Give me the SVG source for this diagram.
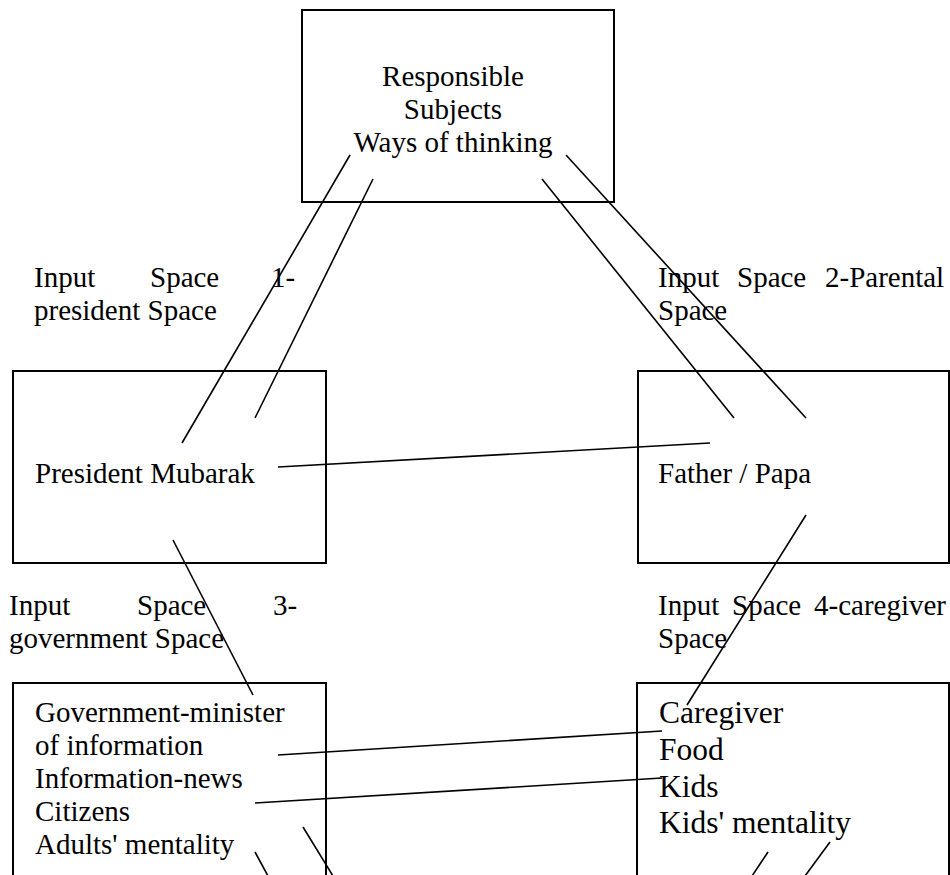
<svg xmlns="http://www.w3.org/2000/svg" width="950" height="875" viewBox="0 0 950 875">
  <style>
    .box { fill: #ffffff; stroke: #000000; stroke-width: 2; }
    .lbl { font-family: "Liberation Serif", "Times New Roman", serif; font-size: 29px; fill: #000000; }
    .big { font-size: 31.5px; }
    .link { stroke: #000000; stroke-width: 1.6; fill: none; }
  </style>
  <rect width="950" height="875" fill="#ffffff"/>

  <!-- blended space -->
  <g id="blend">
    <rect class="box" x="302" y="10" width="312" height="192"/>
    <text class="lbl" x="453" y="86" text-anchor="middle">Responsible</text>
    <text class="lbl" x="453" y="119" text-anchor="middle">Subjects</text>
    <text class="lbl" x="453" y="152" text-anchor="middle">Ways of thinking</text>
  </g>

  <!-- space captions (justified lines, one word per text element) -->
  <g id="caption-1">
    <text class="lbl" x="34" y="287">Input</text>
    <text class="lbl" x="150" y="287">Space</text>
    <text class="lbl" x="271" y="287">1-</text>
    <text class="lbl" x="34" y="320">president Space</text>
  </g>
  <g id="caption-2">
    <text class="lbl" x="658" y="287">Input</text>
    <text class="lbl" x="737" y="287">Space</text>
    <text class="lbl" x="825" y="287">2-Parental</text>
    <text class="lbl" x="658" y="320">Space</text>
  </g>
  <g id="caption-3">
    <text class="lbl" x="9" y="615">Input</text>
    <text class="lbl" x="137" y="615">Space</text>
    <text class="lbl" x="273" y="615">3-</text>
    <text class="lbl" x="9" y="648">government Space</text>
  </g>
  <g id="caption-4">
    <text class="lbl" x="658" y="615">Input</text>
    <text class="lbl" x="732" y="615">Space</text>
    <text class="lbl" x="814" y="615">4-caregiver</text>
    <text class="lbl" x="658" y="648">Space</text>
  </g>

  <!-- input space 1 -->
  <g id="president">
    <rect class="box" x="13" y="371" width="313" height="192"/>
    <text class="lbl" x="35" y="483">President Mubarak</text>
  </g>

  <!-- input space 2 -->
  <g id="parental">
    <rect class="box" x="638" y="371" width="311" height="192"/>
    <text class="lbl" x="658" y="483">Father / Papa</text>
  </g>

  <!-- input space 3 -->
  <g id="government">
    <rect class="box" x="13" y="683" width="313" height="200"/>
    <text class="lbl" x="35" y="722">Government-minister</text>
    <text class="lbl" x="35" y="755">of information</text>
    <text class="lbl" x="35" y="788">Information-news</text>
    <text class="lbl" x="35" y="821">Citizens</text>
    <text class="lbl" x="35" y="854">Adults' mentality</text>
  </g>

  <!-- input space 4 -->
  <g id="caregiver">
    <rect class="box" x="637" y="683" width="312" height="200"/>
    <text class="lbl big" x="659" y="723">Caregiver</text>
    <text class="lbl big" x="659" y="760">Food</text>
    <text class="lbl big" x="659" y="797">Kids</text>
    <text class="lbl big" x="659" y="833">Kids' mentality</text>
  </g>

  <!-- mappings between spaces -->
  <g id="connectors">
    <line class="link" x1="350" y1="155" x2="182" y2="443"/>
    <line class="link" x1="373" y1="179" x2="255" y2="418"/>
    <line class="link" x1="542" y1="179" x2="734" y2="418"/>
    <line class="link" x1="566" y1="155" x2="806" y2="418"/>
    <line class="link" x1="278" y1="467" x2="710" y2="443"/>
    <line class="link" x1="173" y1="540" x2="253" y2="695"/>
    <line class="link" x1="806" y1="515" x2="687" y2="705"/>
    <line class="link" x1="278" y1="755" x2="662" y2="731"/>
    <line class="link" x1="255" y1="803" x2="662" y2="778"/>
    <line class="link" x1="255" y1="852" x2="268" y2="876"/>
    <line class="link" x1="303" y1="827" x2="333" y2="876"/>
    <line class="link" x1="768" y1="852" x2="752" y2="876"/>
    <line class="link" x1="830" y1="842" x2="805" y2="876"/>
  </g>
</svg>
